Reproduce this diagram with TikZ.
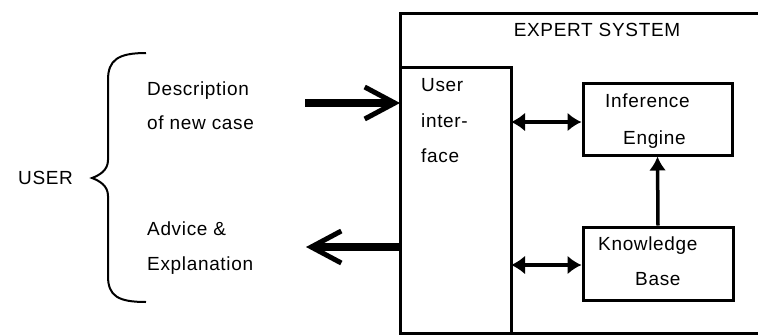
\documentclass[tikz,border=0pt]{standalone}
\usepackage{fontspec}
\setmainfont{Liberation Sans}[LetterSpace=3.5]
\usetikzlibrary{arrows.meta}
\begin{document}
\begin{tikzpicture}[x=1pt,y=-1pt,
  lbl/.style={font=\fontsize{19}{21}\selectfont, inner sep=0pt, anchor=base west},
  boxline/.style={line width=3pt},
  dbl/.style={line width=3.5pt, {Latex[length=14pt,width=19pt]}-{Latex[length=14pt,width=19pt]}},
  bigarrow/.style={line width=8pt, -{Straight Barb[length=30pt,width=32pt,line width=5pt]}}]
\useasboundingbox (0,0) rectangle (758,335);
\clip (0,0) rectangle (758,335);
% outer expert system box
\draw[boxline] (400,13) rectangle (775,333);
\node[font=\fontsize{19}{21}\selectfont, inner sep=0pt, anchor=base] (es) at (597,36) {EXPERT SYSTEM};
% user interface
\draw[boxline] (400,67) rectangle (511,333);
\coordinate (uitop) at (511,122);
\coordinate (uibot) at (511,265);
\coordinate (uiinL) at (400,103);
\coordinate (uioutL) at (400,247);
\node[lbl] (ui1) at (421,91) {User};
\node[lbl] (ui2) at (421,127) {inter-};
\node[lbl] (ui3) at (421,162) {face};
% inference engine
\node[boxline, draw, minimum width=149pt, minimum height=72pt, inner sep=0pt] (ie) at (657.5,119) {};
\node[lbl] at (605,107) {Inference};
\node[lbl] at (623,144) {Engine};
% knowledge base
\node[boxline, draw, minimum width=150pt, minimum height=73pt, inner sep=0pt] (kb) at (658,263.5) {};
\node[lbl] at (598,250) {Knowledge};
\node[lbl] at (635,285) {Base};
% connectors
\draw[dbl] (uitop) -- (ie.west |- uitop);
\draw[dbl] (uibot) -- (kb.west |- uibot);
\draw[line width=3.5pt, -{Latex[length=14pt,width=17pt]}] (kb.north) -- (ie.south);
% user side
\coordinate (inStart) at (305,103);
\coordinate (outEnd) at (306,247);
\draw[bigarrow] (inStart) -- (uiinL);
\draw[bigarrow] (uioutL) -- (outEnd);
\node[lbl] (user) at (18,184) {USER};
\draw[line width=2pt] (146,53) .. controls (118,53) and (108,60) .. (108,80)
  -- (108,160) .. controls (108,170) and (100,175) .. (92,178)
  .. controls (100,181) and (108,186) .. (108,196)
  -- (108,276) .. controls (108,296) and (118,302) .. (146,302);
\node[lbl] (d1) at (147,95) {Description};
\node[lbl] (d2) at (147,129) {of new case};
\node[lbl] (a1) at (147,235) {Advice \&};
\node[lbl] (a2) at (147,270) {Explanation};
\end{tikzpicture}
\end{document}
